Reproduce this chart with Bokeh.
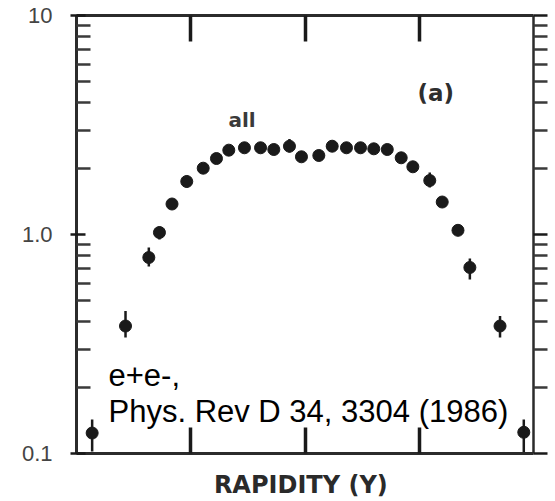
from bokeh.plotting import figure
from bokeh.models import FixedTicker, LogAxis, LinearAxis, Label
from bokeh.embed import file_html
from bokeh.resources import INLINE

# rapidity values of the points
rapidity = [-1.863, -1.571, -1.367, -1.274, -1.164, -1.035, -0.891, -0.775, -0.667,
            -0.530, -0.389, -0.273, -0.136, -0.031, 0.121, 0.238, 0.363, 0.486,
            0.602, 0.720, 0.842, 0.944, 1.092, 1.201, 1.339, 1.443, 1.707, 1.915]
# dN/dy values
dndy = [0.124, 0.382, 0.785, 1.021, 1.378, 1.746, 2.008, 2.223, 2.427,
        2.489, 2.489, 2.444, 2.530, 2.264, 2.295, 2.530, 2.489, 2.489,
        2.462, 2.444, 2.240, 2.038, 1.764, 1.407, 1.045, 0.707, 0.382, 0.125]
# error bar ends
err_lo = [0.102, 0.339, 0.714, 0.949, 1.378, 1.639, 2.008, 2.223, 2.427,
          2.489, 2.489, 2.444, 2.368, 2.264, 2.295, 2.393, 2.489, 2.489,
          2.462, 2.444, 2.240, 2.038, 1.639, 1.407, 0.990, 0.623, 0.339, 0.101]
err_hi = [0.143, 0.447, 0.872, 1.088, 1.378, 1.859, 2.008, 2.223, 2.427,
          2.489, 2.489, 2.444, 2.730, 2.264, 2.295, 2.687, 2.489, 2.489,
          2.462, 2.444, 2.240, 2.038, 1.919, 1.407, 1.099, 0.777, 0.424, 0.143]

x_ticks = [-1, 0, 1]
x_title = "RAPIDITY  (Y)"
y_major = [0.1, 1, 10]
y_minor = [0.2, 0.3, 0.4, 0.5, 0.6, 0.7, 0.8, 0.9, 2, 3, 4, 5, 6, 7, 8, 9]
y_tick_labels = ["0.1", "1.0", "10"]

INK = "#1a1a1a"
FRAME = "#2b2b2b"

p = figure(width=555, height=501, x_range=(-2, 2), y_range=(0.1, 10),
           y_axis_type="log", output_backend="svg", toolbar_location=None,
           min_border_left=76, min_border_right=22, min_border_top=15,
           min_border_bottom=48, x_axis_location=None, y_axis_location=None)
p.outline_line_color = None
p.grid.visible = False
p.background_fill_color = "white"
p.border_fill_color = "white"


def style_axis(ax, ticks, tin, tout, minor_in, minor_out, width, labels=None):
    ax.axis_line_color = FRAME
    ax.axis_line_width = width
    ax.major_tick_in = tin
    ax.major_tick_out = tout
    ax.major_tick_line_color = INK
    ax.minor_tick_in = minor_in
    ax.minor_tick_out = minor_out
    ax.minor_tick_line_color = "#3a3a3a"
    ax.minor_tick_line_width = 2.5
    if labels is None:
        ax.major_label_overrides = {t: "" for t in ticks}
        ax.major_label_standoff = 0
    else:
        ax.major_label_overrides = dict(zip(ticks, labels))


bottom = LinearAxis(ticker=FixedTicker(ticks=x_ticks), axis_label=x_title)
style_axis(bottom, x_ticks, 26, 0, 0, 0, 3)
bottom.major_tick_line_width = 3.5
bottom.axis_label_standoff = 17
bottom.axis_label_text_font = "DejaVu Sans"
bottom.axis_label_text_font_style = "bold"
bottom.axis_label_text_font_size = "24px"
bottom.axis_label_text_color = "#2a2a2a"
p.add_layout(bottom, "below")

top = LinearAxis(ticker=FixedTicker(ticks=x_ticks))
style_axis(top, x_ticks, 26, 0, 0, 0, 3)
top.major_tick_line_width = 3.5
p.add_layout(top, "above")

left = LogAxis(ticker=FixedTicker(ticks=y_major, minor_ticks=y_minor))
style_axis(left, y_major, 9, 6, 14, 0, 3, labels=y_tick_labels)
left.major_tick_line_width = 2.5
left.major_label_standoff = 18
left.major_label_text_font = "Liberation Sans"
left.major_label_text_font_size = "22px"
left.major_label_text_color = "#444444"
p.add_layout(left, "left")

right = LogAxis(ticker=FixedTicker(ticks=y_major, minor_ticks=y_minor))
style_axis(right, y_major, 0, 14, 0, 14, 2.5)
right.major_tick_line_width = 2.5
p.add_layout(right, "right")

p.segment(x0=rapidity, y0=err_lo, x1=rapidity, y1=err_hi,
          line_color=INK, line_width=2.5)
p.scatter(rapidity, dndy, size=12, color=INK)

p.add_layout(Label(x=-0.67, y=3.35, text="all", text_font="DejaVu Sans",
                   text_font_style="bold", text_font_size="20px",
                   text_color="#3a3a3a", text_baseline="alphabetic"))
p.add_layout(Label(x=0.985, y=4.41, text="(a)", text_font="DejaVu Sans",
                   text_font_style="bold", text_font_size="23px",
                   text_color="#2e2e2e", text_baseline="middle"))

p.add_layout(Label(x=-1.72, y=0.2271, text="e+e-,", text_font="Liberation Sans",
                   text_font_size="31px", text_color="black",
                   text_baseline="alphabetic"))
p.add_layout(Label(x=-1.72, y=0.1555, text="Phys. Rev D 34, 3304 (1986)",
                   text_font="Liberation Sans", text_font_size="31px",
                   text_color="black", text_baseline="alphabetic"))

open("out.html", "w").write(file_html(p, INLINE))
